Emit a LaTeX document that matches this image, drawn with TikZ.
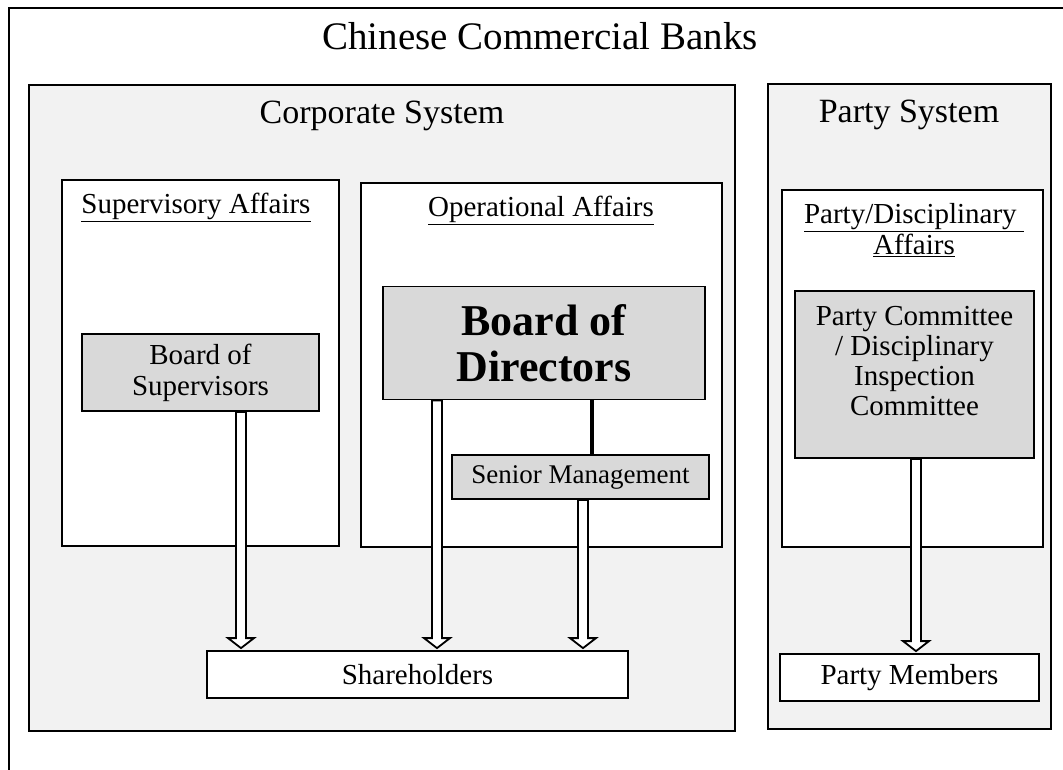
\documentclass[tikz,border=0pt]{standalone}
\usepackage{fontspec}
\setmainfont{Liberation Serif}
\usetikzlibrary{calc}

% hollow block arrow from a named point down to the top of a node
\newcommand{\hollowarrow}[2]{%
  \coordinate (tipend) at (#1 |- #2.north);
  \draw[arrowline] ($(#1)+(-5,0)$) -- ($(tipend)+(-5,-12)$) -- ($(tipend)+(-13,-12)$)
    -- ($(tipend)+(0,-2)$) -- ($(tipend)+(13,-12)$) -- ($(tipend)+(5,-12)$)
    -- ($(#1)+(5,0)$) -- cycle;}

\begin{document}
\begin{tikzpicture}[x=1pt,y=-1pt,line width=1.8pt]
\tikzstyle{panel}=[draw, fill=black!5, inner sep=0pt]
\tikzstyle{area}=[draw, fill=white, inner sep=0pt]
\tikzstyle{organ}=[draw, fill=black!15, inner sep=0pt, align=center, font=\fontsize{29}{31}\selectfont]
\tikzstyle{member}=[draw, fill=white, inner sep=0pt, font=\fontsize{29}{30}\selectfont]
\tikzstyle{heading}=[inner sep=0pt, align=center, font=\fontsize{29}{31}\selectfont]
\tikzstyle{arrowline}=[draw, fill=white, line width=1.8pt, line join=miter]

\clip (0,0) rectangle (1063,769);
\node[draw, inner sep=0pt, minimum width=1080pt, minimum height=790pt, anchor=north west] (frame) at (8,7) {};
\node[inner sep=0pt, font=\fontsize{39}{40}\selectfont] (banks) at (540,36) {Chinese Commercial Banks};

% the two systems
\node[panel, minimum width=706pt, minimum height=646pt] (corp) at (382,408) {};
\node[panel, minimum width=283pt, minimum height=645pt] (party) at (909.5,406.5) {};
\node[inner sep=0pt, font=\fontsize{34}{35}\selectfont] (corptitle) at (382,116) {Corporate System};
\node[inner sep=0pt, font=\fontsize{34}{35}\selectfont] (partytitle) at (909,115) {Party System};

% affairs
\node[area, minimum width=277pt, minimum height=366pt] (sup) at (200.5,363) {};
\node[area, minimum width=361pt, minimum height=364pt] (oper) at (541.5,365) {};
\node[area, minimum width=261pt, minimum height=357pt] (disc) at (912.5,368.5) {};
\node[heading] (suptitle) at (196,207) {\underline{Supervisory Affairs}};
\node[heading] (opertitle) at (541,210) {\underline{Operational Affairs}};
\node[heading] (disctitle) at (914,230) {\underline{Party/Disciplinary\ }\\\underline{Affairs}};

% organs
\node[organ, minimum width=237pt, minimum height=77pt] (bos) at (200.5,372.5) {Board of\\Supervisors};
\node[organ, minimum width=322pt, minimum height=113pt, font=\fontsize{44}{46}\bfseries] (bod) at (544,343) {Board of\\Directors};
\node[organ, minimum width=257pt, minimum height=44pt, font=\fontsize{27}{28}\selectfont] (sm) at (580.5,477) {Senior Management};
\node[organ, minimum width=239pt, minimum height=167pt] (pc) at (914.5,374.5) {};
\node[inner sep=0pt, align=center, font=\fontsize{29}{30}\selectfont] (pctext) at ([yshift=13pt]pc.center) {Party Committee\\/ Disciplinary\\Inspection\\Committee};

\node[member, minimum width=421pt, minimum height=47pt] (share) at (417.5,674.5) {Shareholders};
\node[member, minimum width=259pt, minimum height=47pt] (pm) at (909.5,677.5) {Party Members};

\draw[line width=3.5pt] (bod.south -| sm.north) ++(11.5,0) coordinate (link) -- (link |- sm.north);

\coordinate (a1) at ([xshift=40.5pt]bos.south);
\coordinate (a2) at ([xshift=-107pt]bod.south);
\coordinate (a3) at ([xshift=2.5pt]sm.south);
\coordinate (a4) at ([xshift=1.5pt]pc.south);
\hollowarrow{a1}{share}
\hollowarrow{a2}{share}
\hollowarrow{a3}{share}
\hollowarrow{a4}{pm}
\end{tikzpicture}
\end{document}
